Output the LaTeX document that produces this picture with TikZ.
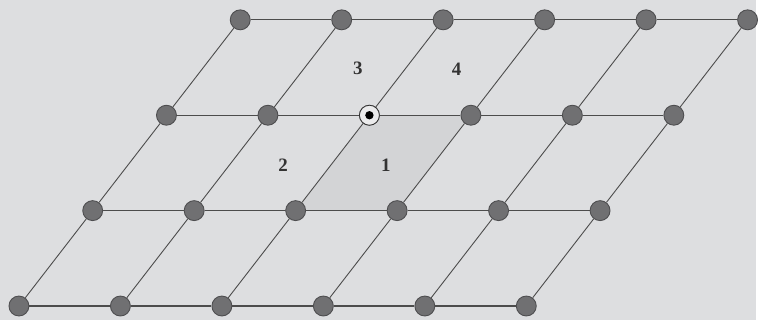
\documentclass[tikz,border=0pt]{standalone}
\usepackage{fontspec}
\setmainfont{Liberation Serif}
\usepackage{tikz}

\definecolor{paper}{RGB}{221,222,224}
\definecolor{cellshade}{RGB}{211,212,214}
\definecolor{dotfill}{RGB}{112,112,114}
\definecolor{dotrim}{RGB}{78,78,80}

\begin{document}
\begin{tikzpicture}
  [x=1pt,y=-1pt,
   grid node/.style={circle,inner sep=0pt,minimum size=20pt,fill=dotfill,draw=dotrim,line width=0.9pt},
   centre node/.style={circle,inner sep=0pt,minimum size=20pt,fill=paper!60!white,draw=black!80,line width=0.8pt},
   row edge/.style={draw=black!70,line width=1.3pt},
   slant edge/.style={draw=black!70,line width=0.9pt},
   cell label/.style={font=\fontsize{19}{22}\selectfont\bfseries,text=black!80}]

\fill[paper] (0,0) rectangle (758,321);

\foreach \i in {0,...,5}
  \foreach \j in {0,...,3}
    \coordinate (p\i\j) at ({19+101.8*\i+74*\j},{307-95.7*\j});

\fill[cellshade] (p21) -- (p31) -- (p32) -- (p22) -- cycle;

\foreach \i in {0,...,5}
  \foreach \j in {0,...,3}
    \node[grid node] (n\i\j) at (p\i\j) {};
\node[centre node] (n22) at (p22) {};
\fill[black] (n22.center) circle (4.2);

% rows
\foreach \j in {0,...,3}
  \foreach \i [count=\k from 1] in {0,...,4}
    \path[row edge] (n\i\j) -- (n\k\j);
% slanted columns
\foreach \i in {0,...,5}
  \foreach \j [count=\k from 1] in {0,...,2}
    \path[slant edge] (n\i\j) -- (n\i\k);

\node[cell label] (c1) at (387,166) {1};
\node[cell label] (c2) at (284,166) {2};
\node[cell label] (c3) at (359,69) {3};
\node[cell label] (c4) at (458,69) {4};

\end{tikzpicture}
\end{document}
